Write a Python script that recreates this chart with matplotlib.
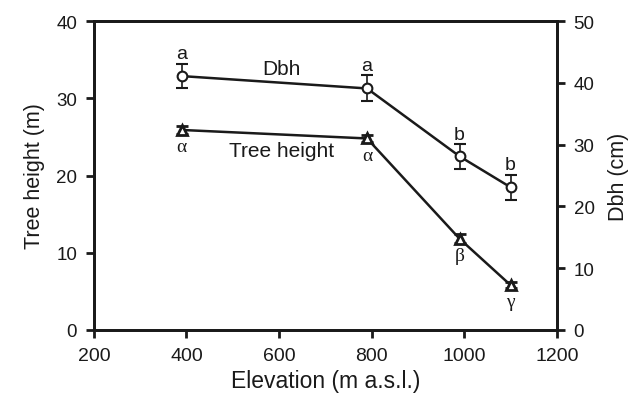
import numpy as np
import matplotlib
matplotlib.use("Agg")
import matplotlib.pyplot as plt

# --- data ---
elevation = [390, 790, 990, 1100]          # m a.s.l.
tree_height = [25.9, 24.8, 11.8, 5.8]      # m (left axis)
tree_height_err = [0.5, 0.5, 0.6, 0.4]
dbh = [41.1, 39.1, 28.1, 23.1]             # cm (right axis)
dbh_err = [2.0, 2.1, 2.0, 2.0]
dbh_letters = ["a", "a", "b", "b"]
height_letters = ["α", "α", "β", "γ"]

plt.rcParams['font.family'] = ['Liberation Sans', 'DejaVu Sans']

fig = plt.figure(figsize=(6.43, 4.10), dpi=100)
ax = fig.add_axes([0.146, 0.193, 0.720, 0.753])
ax2 = ax.twinx()

lc = "#1a1a1a"

# tree height (left axis)
ax.errorbar(elevation, tree_height, yerr=tree_height_err, color=lc, lw=1.8,
            marker="^", ms=7, mfc="white", mec=lc, mew=2,
            capsize=4, elinewidth=1.2, zorder=3)
# Dbh (right axis)
ax2.errorbar(elevation, dbh, yerr=dbh_err, color=lc, lw=1.8,
             marker="o", ms=7, mfc="white", mec=lc, mew=1.5,
             capsize=4, elinewidth=1.2, zorder=3)

for x, y, e, t in zip(elevation, dbh, dbh_err, dbh_letters):
    ax2.annotate(t, (x, y + e), xytext=(0, 1), textcoords="offset points",
                 ha="center", va="bottom", fontsize=14, color=lc)
for x, y, t in zip(elevation, tree_height, height_letters):
    ax.annotate(t, (x, y), xytext=(0, -6), textcoords="offset points",
                ha="center", va="top", fontsize=14, color=lc,
                family=['Liberation Serif', 'DejaVu Serif'])

ax.text(605, 33.8, "Dbh", ha="center", va="center", fontsize=15, color=lc)
ax.text(605, 23.2, "Tree height", ha="center", va="center", fontsize=15, color=lc)

ax.set_xlim(200, 1200)
ax.set_ylim(0, 40)
ax2.set_ylim(0, 50)
ax.set_xticks(np.arange(200, 1201, 200))
ax.set_yticks(np.arange(0, 41, 10))
ax2.set_yticks(np.arange(0, 51, 10))

ax.set_xlabel("Elevation (m a.s.l.)", fontsize=16.5, color=lc, labelpad=4)
ax.set_ylabel("Tree height (m)", fontsize=15.5, color=lc, labelpad=8)
ax2.set_ylabel("Dbh (cm)", fontsize=15.5, color=lc, labelpad=10)

for a in (ax, ax2):
    for s in a.spines.values():
        s.set_linewidth(2)
        s.set_color(lc)
    a.tick_params(direction="out", length=6, width=2, color=lc,
                  labelsize=13.5, labelcolor=lc, pad=6)
ax.tick_params(axis="x", labelsize=14)

fig.savefig("out.png", dpi=100)
